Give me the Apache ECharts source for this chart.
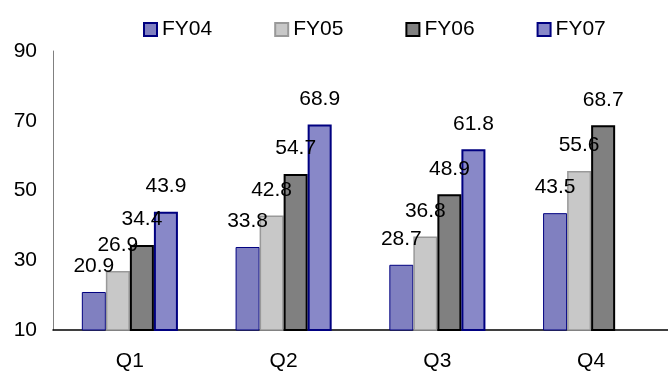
<!DOCTYPE html>
<html>
<head>
<meta charset="utf-8">
<script src="https://cdn.jsdelivr.net/npm/echarts@6/dist/echarts.min.js"></script>
<style>
  html, body { margin: 0; padding: 0; background: #fff; }
  #chart { width: 668px; height: 372px; }
</style>
</head>
<body>
<div id="chart"></div>
<script>
// Quarterly values per fiscal year
const quarters = ['Q1', 'Q2', 'Q3', 'Q4'];
const fy04 = [20.9, 33.8, 28.7, 43.5];
const fy05 = [26.9, 42.8, 36.8, 55.6];
const fy06 = [34.4, 54.7, 48.9, 68.7];
const fy07 = [43.9, 68.9, 61.8, null];
const seriesNames = ['FY04', 'FY05', 'FY06', 'FY07'];
const yTicks = { min: 10, max: 90, step: 20 };

const FONT = '"Liberation Sans", Arial, sans-serif';

const styles = [
  { fill: '#8080C0', border: '#000080', width: 1 },
  { fill: '#C8C8C8', border: '#999999', width: 1.5 },
  { fill: '#808080', border: '#000000', width: 2 },
  { fill: '#8888C8', border: '#000080', width: 2 }
];

const values = [fy04, fy05, fy06, fy07];

const chart = echarts.init(document.getElementById('chart'), null, { renderer: 'canvas' });

chart.setOption({
  animation: false,
  backgroundColor: '#ffffff',
  textStyle: { fontFamily: FONT },
  legend: {
    data: seriesNames,
    icon: 'rect',
    left: 143,
    top: 19,
    padding: 0,
    itemWidth: 13,
    itemHeight: 13,
    itemGap: 62,
    textStyle: { fontSize: 21, color: '#000', fontFamily: FONT, padding: [0, 0, 6, 0] }
  },
  grid: { left: 53, top: 51, width: 617, bottom: 42, containLabel: false },
  xAxis: {
    type: 'category',
    data: quarters,
    axisLine: { lineStyle: { color: '#000', width: 1.5 } },
    axisTick: { show: false },
    axisLabel: { fontSize: 21, color: '#000', margin: 21, fontFamily: FONT }
  },
  yAxis: {
    type: 'value',
    min: yTicks.min,
    max: yTicks.max,
    interval: yTicks.step,
    axisLine: { show: true, lineStyle: { color: '#808080', width: 1 } },
    axisTick: { show: false },
    splitLine: { show: false },
    axisLabel: { fontSize: 21, color: '#000', margin: 16, fontFamily: FONT }
  },
  series: seriesNames.map((name, i) => ({
    name: name,
    type: 'bar',
    data: values[i],
    barGap: '0%',
    barCategoryGap: '37.5%',
    itemStyle: {
      color: styles[i].fill,
      borderColor: styles[i].border,
      borderWidth: styles[i].width
    },
    label: {
      show: true,
      position: 'top',
      distance: 15,
      fontSize: 21,
      color: '#000',
      fontFamily: FONT
    }
  }))
});
</script>
</body>
</html>
